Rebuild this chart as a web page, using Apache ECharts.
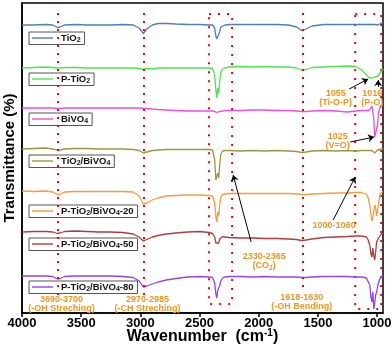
<!DOCTYPE html>
<html><head><meta charset="utf-8">
<script src="https://cdn.jsdelivr.net/npm/echarts@6/dist/echarts.min.js"></script>
<style>html,body{margin:0;padding:0;background:#fff}#c{width:392px;height:345px}</style>
</head><body><div id="c"></div>
<script>
// Wavenumber grid (cm-1)
const wavenumbers = [4000,3900,3800,3740,3700,3680,3640,3550,3450,3350, 3250,3150,3060,3010,2975,2945,2900,2850,2780,2700, 2600,2500,2420,2390,2372,2362,2354,2346,2338,2330, 2320,2305,2285,2250,2150,2050,1950,1850,1750,1680, 1640,1625,1600,1550,1450,1350,1250,1180,1130,1090, 1075,1062,1052,1044,1036,1028,1020,1012,1004,996, 988,978,968,958,950];

// Transmittance (%) of each sample, before vertical stacking
const tio2 = [100,100,100.5,100,97.5,98,100,100.5,100,100, 100,100.5,100,97,91.5,96,100,101.5,101.5,101, 100.5,100.5,100,100,97,89,86,88,87.5,93, 98,100,100,100.5,100.5,100.5,100.5,100.5,100,98, 94.5,93,96,99,100.5,100.5,100.5,100.5,100.5,100.5, 100.5,100.5,100.5,100.5,100.5,100.5,100.5,100.5,100.5,100, 100,101,102,102.5,102];
const pTio2 = [100,100.5,101,100.5,100,100,100.5,100.5,100,100, 100,100,100,99.5,98.5,99.5,99,100,100,100, 100,100,100,99.5,93,78,70,80,75,86, 96,99,100,101,101.5,101,101.5,101,101,100, 98,97.5,98.5,100.5,101,101.5,102,101.5,98,93, 91,90,90,90,90,90.5,91,91,91,91.5, 92.5,94.5,96,97.5,99];
const bivo4 = [100,100,100,100,99.5,99.5,100,100,100,100, 100,100,100,100,99.5,99.5,99,98.5,98,97.5, 97,97,97,97,96.5,96,95.5,96,96,96.5, 97,97,97.5,97.5,97.5,98,98,97.5,97.5,97, 96.5,96,96.5,97,97.5,97,96,97,97.5,97.5, 97.5,98,99,102,103,90,71,71,73,83, 95,100,102,102.5,102.5];
const tio2Bivo4 = [100,100.5,101,100,99,99,100,100.5,100.5,100, 100,100,99.5,98.5,96,97,98.5,99,99.5,99.5, 99.5,99.5,99.5,99,89,69,67,76,71,84, 95,98,98.5,98.5,98,98.5,98,98.5,98,97.5, 96.5,96,97,98,98.5,98,98.5,98,98.5,98.5, 98.5,98.5,98.5,98.5,98.5,98,96,94,98,99, 99,99.5,99.5,100,100];
const pTio2Bivo4_20 = [100,99.5,100,99,96.5,96.5,99,99.5,99.5,99.5, 99.5,99.5,99,95,87,88,91,93,95,95.5, 96,96,95.5,95,88,74,69,79,75,86, 94,96.5,97,97.5,97.5,97.5,97.5,97.5,97.5,97, 96.5,96,96.5,97,97.5,98,98,98.5,98.5,97, 93,86,77,70,69,79,86,83,75,76, 86,95,98,99,99.5];
const pTio2Bivo4_50 = [100,100.5,100.5,100,98.5,99,100.5,101,100.5,100, 100,99.5,98,95,91,92.5,95,96.5,98,99, 100,100.5,99.5,98.5,95,89,87,91,89,93, 95,95.5,95,94.5,94,94,93.5,93.5,93,92.5, 91.5,91,92,93,94.5,95,95.5,96,96,95, 92,87,78,75,84,76,72,80,90,92, 94,96,97.5,98.5,99];
const pTio2Bivo4_80 = [100,100,100,99.5,97,97.5,99.5,100,100,100, 100,99.5,98.5,95,89,90,92,94,96,97.5, 99,99.5,99,98.5,93,82,78,86,84,90, 95,98,99,99.5,99.5,99,99.5,99,99,99, 98.5,98,98.5,99,99.5,99.5,99.5,99,99,98, 96,91,79,74,84,67,73,81,84,89, 93,97,99,100,100];

const seriesNames = ['TiO2','P-TiO2','BiVO4','TiO2/BiVO4','P-TiO2/BiVO4-20','P-TiO2/BiVO4-50','P-TiO2/BiVO4-80'];
const spectra = [tio2, pTio2, bivo4, tio2Bivo4, pTio2Bivo4_20, pTio2Bivo4_50, pTio2Bivo4_80];
const offsets = [0, -43, -83, -124, -166, -207, -251];
const xTicks = [4000, 3500, 3000, 2500, 2000, 1500, 1000];

// Annotation anchors (wavenumber, stacked value)
const bandLines = [[3695, 112, -170], [2975, 112, -170], [1625, 112, -167]];
const bandBoxes = [[2420, 111, 2225, -179], [1185, 111, 965, -184]];
const arrows = [
  [[1236, 36], [1075, 46]],
  [[991, 38], [991, 45]],
  [[1227, -17], [1025, -12]],
  [[1371, -95], [1185, -52]],
  [[2064, -117], [2216, -50]]
];
const notes = [
  ['3690-3700\n(-OH Streching)', 3666, -179],
  ['2970-2985\n(-CH Streching)', 2939, -179],
  ['1618-1630\n(-OH Bending)', 1637, -177],
  ['2330-2365\n(CO{s|2})', 1954, -136],
  ['1000-1060', 1363, -101],
  ['1025\n(V=O)', 1333, -16],
  ['1055\n(Ti-O-P)', 1350, 27],
  ['1016\n(P-O)', 1041, 27]
];

const colors = ['#4d7fbf', '#4ce64c', '#f24be6', '#999a3c', '#fa9a3a', '#b23b3b', '#9a40f0'];
const legendTops = [32, 73, 113, 155, 205, 238, 281];
const FONT = 'Arial, "Liberation Sans", sans-serif';
const ORANGE = '#f7931e';

function rich(name) {
  let out = '', buf = '';
  for (let i = 0; i < name.length; i++) {
    const c = name[i];
    if (/\d/.test(c) && name[i - 1] === 'O') {
      if (buf) { out += '{n|' + buf + '}'; buf = ''; }
      out += '{s|' + c + '}';
    } else buf += c;
  }
  if (buf) out += '{n|' + buf + '}';
  return out;
}

const chart = echarts.init(document.getElementById('c'), null, {renderer: 'canvas'});

const series = seriesNames.map((name, i) => ({
  name, type: 'line', symbol: 'none', showSymbol: false, animation: false, z: 3,
  data: wavenumbers.map((w, j) => [w, spectra[i][j] + offsets[i]]),
  lineStyle: {color: colors[i], width: 1.3},
  itemStyle: {color: colors[i]}
}));

series.push({
  type: 'line', data: [], animation: false, z: 2,
  markLine: {
    silent: true, animation: false, symbol: 'none', label: {show: false},
    lineStyle: {color: '#ff0000', width: 2, type: [2, 6], cap: 'butt'},
    data: bandLines.map(b => [{coord: [b[0], b[1]]}, {coord: [b[0], b[2]]}])
  },
  markArea: {
    silent: true, animation: false, label: {show: false},
    itemStyle: {color: 'rgba(0,0,0,0)', borderColor: '#ff0000', borderWidth: 2, borderType: [2, 7]},
    data: bandBoxes.map(b => [{coord: [b[0], b[1]]}, {coord: [b[2], b[3]]}])
  }
});
series.push({
  type: 'line', data: [], animation: false, z: 4,
  markLine: {
    silent: true, animation: false, symbol: ['none', 'arrow'], symbolSize: 6, label: {show: false},
    lineStyle: {color: '#000', width: 1, type: 'solid'},
    data: arrows.map(a => [{coord: a[0]}, {coord: a[1]}])
  }
});
series.push({
  type: 'line', data: [], animation: false, z: 5,
  markPoint: {
    silent: true, animation: false, symbol: 'circle', symbolSize: 0,
    itemStyle: {color: 'rgba(0,0,0,0)'},
    label: {
      show: true, position: 'inside', color: ORANGE, fontSize: 9, fontWeight: 'bold',
      fontFamily: FONT, lineHeight: 9.5, align: 'center',
      rich: {s: {fontSize: 6.5, fontWeight: 'bold', color: ORANGE, fontFamily: FONT, padding: [4, 0, 0, 0]}}
    },
    data: notes.map(n => ({coord: [n[1], n[2]], label: {formatter: n[0]}}))
  }
});

const legends = seriesNames.map((name, i) => ({
  data: [{name, icon: 'rect'}], left: 29, top: legendTops[i], orient: 'horizontal',
  padding: [1, 4, 1, 3], borderColor: '#555', borderWidth: 1,
  itemWidth: 21, itemHeight: 1.4, itemGap: 0, selectedMode: false,
  formatter: n => rich(n),
  textStyle: {
    padding: [0, 0, 0, 3],
    rich: {
      n: {fontSize: 9.5, fontWeight: 'bold', color: '#111', fontFamily: FONT},
      s: {fontSize: 7, fontWeight: 'bold', color: '#111', fontFamily: FONT, padding: [4, 0, 0, 0]}
    }
  }
}));

chart.setOption({
  animation: false,
  backgroundColor: '#fff',
  grid: {left: 22, right: 9, top: 3, bottom: 32, show: true, borderColor: '#000', borderWidth: 1.5,
         backgroundColor: 'transparent', containLabel: false, outerBoundsMode: 'none'},
  legend: legends,
  xAxis: {
    type: 'value', inverse: true, min: 950, max: 4000,
    axisLine: {show: true, onZero: false, lineStyle: {color: '#000', width: 1.5}},
    axisTick: {show: true, customValues: xTicks, length: 4, lineStyle: {color: '#000', width: 1.5}},
    axisLabel: {customValues: xTicks, formatter: v => String(v), color: '#000', fontSize: 13, fontWeight: 'bold', margin: 4, fontFamily: FONT},
    splitLine: {show: false},
    name: '{a|Wavenumber  (cm}{sup|-1}{a|)}', nameLocation: 'middle', nameGap: 15, nameMoveOverlap: false,
    nameTextStyle: {
      verticalAlign: 'top',
      rich: {
        a: {fontSize: 16, lineHeight: 18, fontWeight: 'bold', color: '#000', fontFamily: FONT},
        sup: {fontSize: 10, lineHeight: 10, verticalAlign: 'top', fontWeight: 'bold', color: '#000', fontFamily: FONT}
      }
    }
  },
  yAxis: {
    type: 'value', min: -188, max: 122,
    axisLine: {show: true, onZero: false, lineStyle: {color: '#000', width: 1.5}},
    axisTick: {show: false}, axisLabel: {show: false}, splitLine: {show: false},
    name: 'Transmittance (%)', nameLocation: 'middle', nameGap: 5, nameMoveOverlap: false,
    nameTextStyle: {fontSize: 15, fontWeight: 'bold', color: '#000', fontFamily: FONT}
  },
  series
});
</script>
</body></html>
